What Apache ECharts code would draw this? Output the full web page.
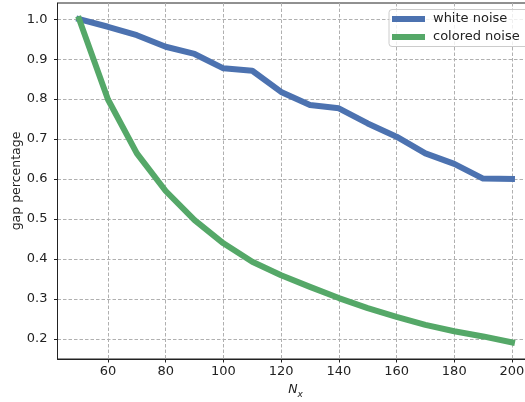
<!DOCTYPE html>
<html>
<head>
<meta charset="utf-8">
<script src="https://cdn.jsdelivr.net/npm/echarts@6/dist/echarts.min.js"></script>
<style>
html,body{margin:0;padding:0;background:#fff;}
#chart{width:525px;height:402px;}
</style>
</head>
<body>
<div id="chart"></div>
<script>
const nx = [50, 60, 70, 80, 90, 100, 110, 120, 130, 140, 150, 160, 170, 180, 190, 200];
const whiteNoise = [1.0, 0.981, 0.96, 0.931, 0.913, 0.877, 0.871, 0.818, 0.785, 0.777, 0.739, 0.706, 0.664, 0.638, 0.601, 0.600];
const coloredNoise = [1.0, 0.799, 0.664, 0.57, 0.497, 0.439, 0.393, 0.359, 0.330, 0.302, 0.277, 0.255, 0.235, 0.219, 0.206, 0.191];
const xTicks = [60, 80, 100, 120, 140, 160, 180, 200];
const yTicks = [0.2, 0.3, 0.4, 0.5, 0.6, 0.7, 0.8, 0.9, 1.0];

const font = 'DejaVu Sans';
const chart = echarts.init(document.getElementById('chart'), null, {renderer: 'canvas'});
const zip = (xs, ys) => xs.map((x, i) => [x, ys[i]]);
const gridLine = {show: true, lineStyle: {color: '#b0b0b0', width: 1, type: [3.5, 2]}};

chart.setOption({
  animation: false,
  backgroundColor: '#fff',
  grid: {left: 57.5, top: 3, right: -8.6, bottom: 43, containLabel: false, outerBoundsMode: 'none',
    show: true, borderColor: '#222', borderWidth: 1, backgroundColor: 'transparent'},
  legend: {
    orient: 'vertical', left: 389, top: 9.5,
    padding: [3, 30, 3, 3], itemGap: 5,
    itemWidth: 33, itemHeight: 6, itemStyle: {borderWidth: 0},
    icon: 'rect',
    backgroundColor: 'rgba(255,255,255,0.8)', borderColor: '#cccccc', borderWidth: 1, borderRadius: 3,
    textStyle: {fontFamily: font, fontSize: 13, color: '#222', padding: [0, 0, 0, 3]},
    data: ['white noise', 'colored noise']
  },
  xAxis: {
    type: 'value', min: 42.5, max: 207.5,
    name: '{n|N}{s|x}', nameLocation: 'middle', nameGap: 21, nameMoveOverlap: false,
    nameTextStyle: {
      rich: {
        n: {fontFamily: font, fontStyle: 'italic', fontSize: 12.5, color: '#222', lineHeight: 16, verticalAlign: 'bottom'},
        s: {fontFamily: font, fontStyle: 'italic', fontSize: 9, color: '#222', lineHeight: 16, verticalAlign: 'bottom', padding: [0, 0, -3, 0]}
      }
    },
    axisLine: {show: true, onZero: false, lineStyle: {color: '#222', width: 1}},
    axisTick: {show: true, length: 3.5, customValues: xTicks, lineStyle: {color: '#222', width: 1}},
    axisLabel: {customValues: xTicks, fontFamily: font, fontSize: 13, color: '#222', margin: 6},
    splitLine: Object.assign({customValues: xTicks}, gridLine)
  },
  yAxis: {
    type: 'value', min: 0.1495, max: 1.0405,
    name: 'gap percentage', nameLocation: 'middle', nameGap: 34, nameMoveOverlap: false,
    nameTextStyle: {fontFamily: font, fontSize: 12.5, color: '#222'},
    axisLine: {show: true, onZero: false, lineStyle: {color: '#222', width: 1}},
    axisTick: {show: true, length: 3.5, customValues: yTicks, lineStyle: {color: '#222', width: 1}},
    axisLabel: {customValues: yTicks, fontFamily: font, fontSize: 13, color: '#222', margin: 10,
      formatter: v => v.toFixed(1)},
    splitLine: Object.assign({customValues: yTicks}, gridLine)
  },
  series: [
    {name: 'white noise', type: 'line', data: zip(nx, whiteNoise), showSymbol: false, symbol: 'none',
      color: '#4c72b0', lineStyle: {width: 6, color: '#4c72b0', cap: 'square', join: 'round'}},
    {name: 'colored noise', type: 'line', data: zip(nx, coloredNoise), showSymbol: false, symbol: 'none',
      color: '#55a868', lineStyle: {width: 6, color: '#55a868', cap: 'square', join: 'round'}}
  ]
});
</script>
</body>
</html>
